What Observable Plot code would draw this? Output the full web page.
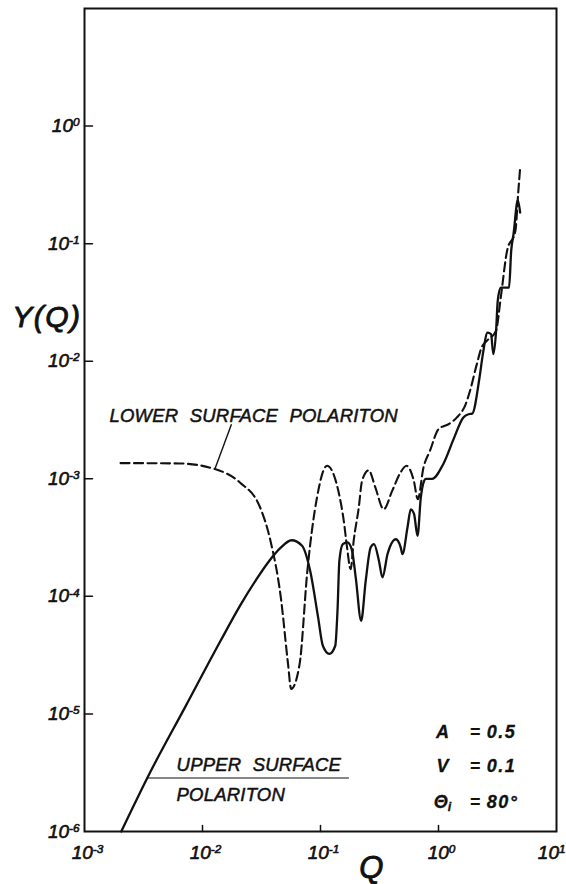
<!DOCTYPE html>
<html><head><meta charset="utf-8">
<script src="https://cdn.jsdelivr.net/npm/d3@7"></script>
<script src="https://cdn.jsdelivr.net/npm/@observablehq/plot@0.6"></script>
<style>body{margin:0;background:#fff} #chart svg{display:block}</style>
</head><body><div id="chart"></div>
<script>
// Upper surface polariton (solid)
const upperQ = [0.00205,0.00362,0.00718,0.01423,0.0210,0.0281,0.0362,0.0458,0.0568,0.0698,0.0817,0.0955,0.1047,0.1189,0.1334,0.1396,0.1445,0.1545,0.169,0.184,0.1995,0.221,0.2415,0.266,0.284,0.313,0.335,0.370,0.435,0.479,0.495,0.546,0.582,0.621,0.664,0.708,0.755,0.780,0.883,1.096,1.358,1.618,1.795,1.928,2.228,2.377,2.606,2.786,2.917,3.076,3.177,3.365,3.963,4.13,4.325,4.70,4.92];
const upperY = [1e-6,3.22e-6,1.16e-5,4.19e-5,8.47e-5,1.355e-4,1.96e-4,2.58e-4,3.0e-4,2.69e-4,1.65e-4,6.6e-5,3.8e-5,3.24e-5,3.8e-5,7.9e-5,2.0e-4,2.78e-4,2.88e-4,2.51e-4,1.41e-4,6.2e-5,1.35e-4,2.6e-4,2.78e-4,2.0e-4,1.45e-4,2.29e-4,3.06e-4,2.6e-4,2.29e-4,3.85e-4,5.5e-4,5.0e-4,3.27e-4,6.9e-4,9.6e-4,1.0e-3,1.0e-3,1.33e-3,2.24e-3,3.31e-3,3.54e-3,3.58e-3,7.3e-3,1.15e-2,1.75e-2,1.70e-2,1.15e-2,1.81e-2,3.26e-2,4.23e-2,4.23e-2,8.67e-2,0.121,0.234,0.184];
// Lower surface polariton (dashed)
const lowerQ = [0.00202,0.0064,0.01274,0.02075,0.0308,0.0377,0.0461,0.0531,0.0564,0.0665,0.0774,0.0933,0.1135,0.1416,0.1574,0.168,0.180,0.191,0.211,0.225,0.256,0.292,0.343,0.405,0.476,0.536,0.618,0.668,0.745,0.847,1.0,1.239,1.426,1.698,1.85,2.11,2.32,2.57,3.07,3.37,3.81,4.48,4.75,4.92];
const lowerY = [1.36e-3,1.35e-3,1.21e-3,9.3e-4,5.7e-4,2.96e-4,9.8e-5,2.65e-5,1.63e-5,2.65e-5,1.65e-4,6.9e-4,1.29e-3,7.9e-4,4.4e-4,2.6e-4,1.7e-4,2.96e-4,5.7e-4,9.6e-4,1.18e-3,8.4e-4,5.5e-4,7.9e-4,1.13e-3,1.29e-3,9.6e-4,6.7e-4,1.24e-3,1.73e-3,2.64e-3,2.95e-3,3.31e-3,4.3e-3,5.6e-3,9.4e-3,1.31e-2,1.49e-2,1.81e-2,3.48e-2,8.67e-2,0.128,0.281,0.443];

const xTickExps = [-3,-2,-1,0];
const xLastTickExp = 1;
const yTickExps = [0,-1,-2,-3,-4,-5,-6];
const xInnerTicks = [1e-2,1e-1,1];
const yInnerTicks = [1,1e-1,1e-2,1e-3,1e-4,1e-5];

const lowerLabel = {q:0.00163, y:3.07e-3, text:"LOWER SURFACE POLARITON"};
const lowerLeader = {q1:0.0176, y1:2.91e-3, q2:0.01274, y2:1.21e-3};
const upperLabelLines = [{q:0.00603, y:3.28e-6, text:"UPPER SURFACE"},{q:0.00603, y:1.82e-6, text:"POLARITON"}];
const upperRule = {q1:0.00345, q2:0.174, y:2.85e-6};
const paramNames = ["A","V","Θ_i"];
const paramValues = ["0.5","0.1","80°"];
const paramRowY = [6.3e-6,3.18e-6,1.6e-6];
const paramCols = {name:1.08, eq:2.05, value:2.56};
const xTitle = {text:"Q", q:0.27};
const yTitle = {text:"Y(Q)", y:0.0238};

const upper = upperQ.map((q,i)=>({q, y:upperY[i]}));
const lower = lowerQ.map((q,i)=>({q, y:lowerY[i]}));
const params = paramNames.map((n,i)=>({name:n, value:paramValues[i], y:paramRowY[i]}));

const font = "'Liberation Sans', Arial, sans-serif";
const ink = "#111";
const tickShape = {draw(ctx, l){ ctx.moveTo(0,0); ctx.lineTo(0,-l); }};
const heavy = {fill: ink, stroke: ink, strokeWidth: 0.6, fontStyle: "italic"};

const chart = Plot.plot({
  width: 566, height: 884,
  marginLeft: 84, marginRight: 10, marginTop: 8, marginBottom: 53,
  x: {type:"log", domain:[1e-3,10], axis:null},
  y: {type:"log", domain:[1e-6,10], axis:null},
  style: {background:"#fff", fontFamily: font, color: ink},
  marks: [
    Plot.frame({stroke: ink, strokeWidth: 2}),
    Plot.vector(yInnerTicks, {x: 1e-3, y: d=>d, length: 8, rotate: 90, anchor:"start", shape: tickShape, stroke: ink, strokeWidth: 1.5}),
    Plot.vector(xInnerTicks, {x: d=>d, y: 1e-6, length: 6, rotate: 0, anchor:"start", shape: tickShape, stroke: ink, strokeWidth: 1.5}),
    Plot.text(yTickExps, {x: 1e-3, y: e=>Math.pow(10,e), text: e=>"10^"+e, textAnchor:"end", lineAnchor:"middle", dx:-5, fontSize:19, ...heavy}),
    Plot.text(xTickExps, {x: e=>Math.pow(10,e), y: 1e-6, text: e=>"10^"+e, textAnchor:"middle", lineAnchor:"bottom", dx:3, dy:27, fontSize:19, ...heavy}),
    Plot.text([xLastTickExp], {x: e=>Math.pow(10,e), y: 1e-6, text: e=>"10^"+e, textAnchor:"end", lineAnchor:"bottom", dx:9, dy:27, fontSize:19, ...heavy}),
    Plot.text([xTitle], {x:"q", y:1e-6, text:"text", textAnchor:"middle", lineAnchor:"bottom", dy:46, fontSize:31, ...heavy, strokeWidth:0.9}),
    Plot.text([yTitle], {x:1e-3, y:"y", text:"text", textAnchor:"end", lineAnchor:"middle", dx:-3, fontSize:30, ...heavy, strokeWidth:0.9}),
    Plot.line(lower, {x:"q", y:"y", curve:"monotone-x", stroke: ink, strokeWidth: 2.1, strokeDasharray:"9,4.5"}),
    Plot.line(upper, {x:"q", y:"y", curve:"monotone-x", stroke: ink, strokeWidth: 2.3}),
    Plot.text([lowerLabel], {x:"q", y:"y", text:"text", textAnchor:"start", lineAnchor:"bottom", fontSize:18.5, ...heavy, strokeWidth:0.5}),
    Plot.link([lowerLeader], {x1:"q1", y1:"y1", x2:"q2", y2:"y2", stroke: ink, strokeWidth: 1.4}),
    Plot.text(upperLabelLines, {x:"q", y:"y", text:"text", textAnchor:"start", lineAnchor:"bottom", fontSize:18.5, ...heavy, strokeWidth:0.5}),
    Plot.link([upperRule], {x1:"q1", y1:"y", x2:"q2", y2:"y", stroke: ink, strokeWidth: 1.2}),
    Plot.text(params, {x: paramCols.name, y:"y", text:"name", textAnchor:"middle", lineAnchor:"bottom", fontSize:18, fontWeight:"bold", ...heavy, strokeWidth:0.3}),
    Plot.text(params, {x: paramCols.eq, y:"y", text: ()=>"=", textAnchor:"middle", lineAnchor:"bottom", fontSize:18, fontWeight:"bold", fill: ink}),
    Plot.text(params, {x: paramCols.value, y:"y", text:"value", textAnchor:"start", lineAnchor:"bottom", fontSize:18, fontWeight:"bold", ...heavy, strokeWidth:0.3})
  ]
});

// superscripts / subscripts as real text tspans
d3.select(chart).selectAll("text").each(function(){
  const t = this.textContent;
  let m = t.match(/^10\^(-?\d+)$/);
  if (m) {
    const s = d3.select(this);
    s.text("10");
    s.append("tspan").attr("dy","-0.5em").attr("font-size","0.62em").text(m[1]);
    return;
  }
  m = t.match(/^(.)_(.)$/);
  if (m) {
    const s = d3.select(this);
    s.text(m[1]);
    s.append("tspan").attr("dy","0.3em").attr("font-size","0.7em").text(m[2]);
  }
});
d3.select(chart).selectAll("text").filter(function(){ return this.textContent.includes("SURFACE") || this.textContent === "POLARITON"; }).style("word-spacing","6px").style("letter-spacing","0.2px");
d3.select(chart).selectAll("text").filter(function(){ return this.textContent === "Y(Q)"; }).style("letter-spacing","1.5px");
d3.select(chart).selectAll("text").filter(function(){ return ["0.5","0.1","80°"].includes(this.textContent); }).style("letter-spacing","1.5px");
document.getElementById("chart").appendChild(chart);
</script>
</body></html>
